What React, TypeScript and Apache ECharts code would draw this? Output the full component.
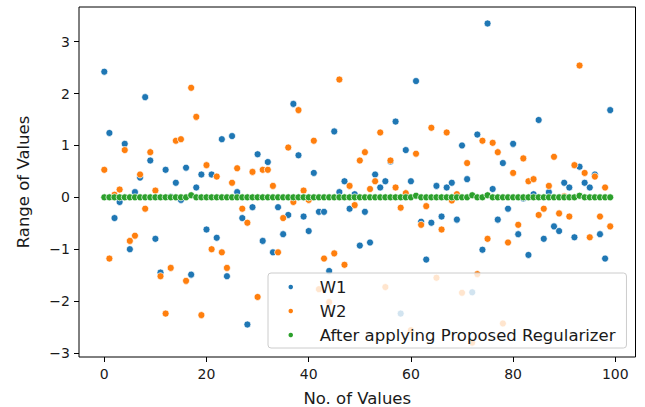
import React, { useEffect, useRef } from "react";
import * as echarts from "echarts";

const xTicks = [0, 20, 40, 60, 80, 100];
const yTicks = [-3, -2, -1, 0, 1, 2, 3];
const seriesNames = ["W1", "W2", "After applying Proposed Regularizer"];

const w1 = [
  2.42, 1.24, -0.4, -0.09, 1.03, -1.0, 0.1, 0.38, 1.93, 0.71,
  -0.8, -1.45, 0.53, 0.01, 0.28, -0.05, 0.57, -1.49, 0.19, 0.44,
  -0.62, 0.44, -0.78, 1.12, -1.52, 1.18, 0.1, -0.4, -2.45, -0.19,
  0.83, -0.84, 0.68, -1.06, -0.19, -0.71, -0.34, 1.8, 0.81, -0.37,
  -0.65, 0.47, -0.28, -0.28, -1.42, 1.27, 0.1, 0.31, -0.22, 0.06,
  -0.93, -0.28, -0.87, 0.44, 0.19, 0.31, 0.69, 1.46, -2.24, 0.91,
  0.31, 2.24, -0.47, -1.2, -0.49, 0.22, -0.37, 0.19, 0.28, -0.43,
  1.0, 0.35, -1.83, 1.21, -1.01, 3.35, 0.16, -0.43, 0.66, -0.22,
  1.03, -0.71, -0.02, -1.11, 0.06, 1.49, -0.8, 0.1, -0.56, -0.65,
  0.28, 0.19, -0.77, 0.59, 0.28, 0.19, 0.44, -0.71, -1.18, 1.68,
];

const w2 = [
  0.53, -1.18, 0.05, 0.15, 0.91, -0.84, -0.74, 0.44, -0.22, 0.87,
  0.13, -1.52, -2.24, -1.36, 1.09, 1.12, -1.61, 2.11, 1.55, -2.27,
  0.62, -1.0, 0.4, -1.06, -1.36, 0.28, 0.56, -0.22, -0.49, 0.49,
  -1.92, 0.53, 0.53, 0.22, -1.06, -0.4, 0.96, -0.09, 1.68, 0.13,
  -0.05, 1.09, -1.77, -1.18, -2.02, -1.08, 2.27, -1.3, 0.22, -0.15,
  0.71, 0.87, 0.16, 0.31, 1.25, -1.73, 0.71, 0.19, -0.2, 0.08,
  -2.56, 0.84, -0.53, -0.17, 1.34, -1.55, -0.62, 1.25, -0.06, 0.06,
  -1.84, 0.66, -2.8, -1.48, 1.09, -0.8, 1.05, 0.87, -2.43, -0.87,
  0.47, -0.53, 0.75, 0.31, 0.35, -0.34, -0.22, 0.22, 0.78, -0.31,
  0.02, -0.37, 0.62, 2.54, 0.47, -0.77, 0.4, -0.37, 0.19, -0.56,
];

const regularized = [
  0, 0, 0, 0, 0, 0, 0, 0, 0, 0,
  0, 0, 0, 0, 0, 0, 0, 0.04, 0, 0,
  0, 0, 0, 0, 0, 0, 0, 0, 0, 0,
  0, 0, 0, 0, 0, 0, 0, 0, 0, 0,
  0, 0, 0, 0, 0, 0, 0, 0, 0, 0,
  0, 0, 0, 0, 0, 0, 0, 0, 0, 0,
  0, 0.03, 0, 0, 0, 0, 0, 0, 0, 0,
  0, 0, 0.04, 0, 0, 0.04, 0, 0, 0, 0,
  0, 0, 0, 0, 0, 0, 0, 0, 0, 0,
  0, 0, 0, 0.03, 0, 0, 0, 0, 0, 0,
];

const colors = ["#1f77b4", "#ff7f0e", "#2ca02c"];
const FONT = "DejaVu Sans";
const TXT = "#1a1a1a";

export default function App() {
  const ref = useRef<HTMLDivElement>(null);
  useEffect(() => {
    if (!ref.current) return;
    const chart = echarts.init(ref.current, null, { renderer: "svg" });
    const toPts = (arr: number[]) => arr.map((v, i) => [i, v]);
    const allSeries = [w1, w2, regularized];
    chart.setOption({
      animation: false,
      textStyle: { fontFamily: FONT },
      grid: {
        left: 79,
        top: 7,
        right: 9.5,
        bottom: 50,
        containLabel: false,
        outerBoundsMode: "none",
        show: true,
        borderColor: "#000",
        borderWidth: 1,
        backgroundColor: "transparent",
      },
      legend: {
        orient: "vertical",
        left: 268,
        top: 273,
        padding: [4, 11, 3, 18.5],
        itemWidth: 25,
        itemHeight: 6.5,
        itemGap: 4,
        backgroundColor: "rgba(255,255,255,0.8)",
        borderColor: "#cccccc",
        borderWidth: 1,
        borderRadius: 3,
        textStyle: {
          fontFamily: FONT,
          fontSize: 16.5,
          lineHeight: 20,
          color: TXT,
          padding: [0, 0, 0, 11.5],
        },
        data: seriesNames.map((n) => ({ name: n, icon: "circle" })),
      },
      xAxis: {
        type: "value",
        min: -4.95,
        max: 103.95,
        name: "No. of Values",
        nameLocation: "middle",
        nameGap: 33,
        nameTextStyle: { fontFamily: FONT, fontSize: 16.5, color: TXT },
        axisLine: { show: false, onZero: false },
        splitLine: { show: false },
        axisTick: { show: true, inside: false, length: 5, customValues: xTicks, lineStyle: { color: "#000" } },
        axisLabel: { customValues: xTicks, margin: 10, fontFamily: FONT, fontSize: 14, color: TXT },
      },
      yAxis: {
        type: "value",
        min: -3.077,
        max: 3.667,
        name: "Range of Values",
        nameLocation: "middle",
        nameRotate: 90,
        nameGap: 47,
        nameTextStyle: { fontFamily: FONT, fontSize: 16.5, color: TXT },
        axisLine: { show: false, onZero: false },
        splitLine: { show: false },
        axisTick: { show: true, inside: false, length: 5, customValues: yTicks, lineStyle: { color: "#000" } },
        axisLabel: {
          customValues: yTicks,
          margin: 9,
          fontFamily: FONT,
          fontSize: 14,
          color: TXT,
          formatter: (v: number) => (v < 0 ? "\u2212" + Math.abs(v) : String(v)),
        },
      },
      series: allSeries.map((arr, k) => ({
        name: seriesNames[k],
        type: "scatter",
        data: toPts(arr),
        symbol: "circle",
        symbolSize: 7,
        itemStyle: { color: colors[k], borderColor: "#ffffff", borderWidth: 0.7, opacity: 1 },
        emphasis: { disabled: true },
      })),
    });
    return () => chart.dispose();
  }, []);
  return (
    <div
      ref={ref}
      style={{ position: "fixed", left: 0, top: 0, width: 645, height: 407, background: "#fff" }}
    />
  );
}
